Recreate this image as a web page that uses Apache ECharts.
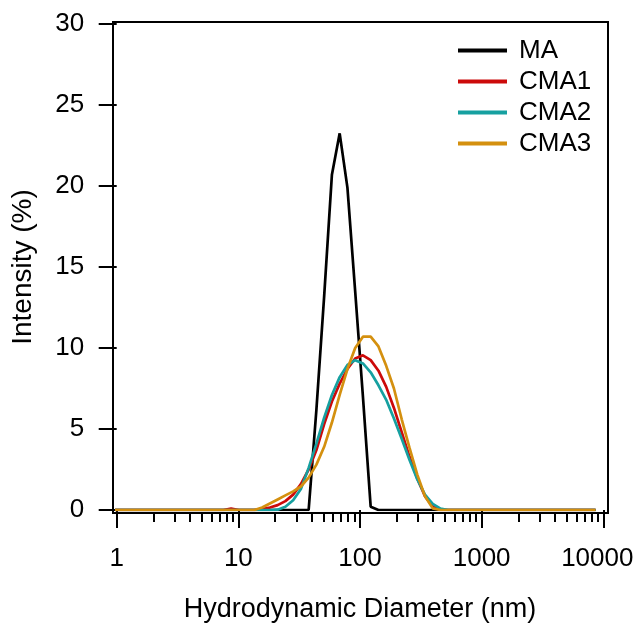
<!DOCTYPE html>
<html><head><meta charset="utf-8">
<script src="https://cdn.jsdelivr.net/npm/echarts@6/dist/echarts.min.js"></script>
<style>html,body{margin:0;padding:0;background:#fff}#c{width:636px;height:626px}</style>
</head><body><div id="c"></div>
<script>
// Size bins (nm)
const diameters = [0.9649, 1.117, 1.294, 1.499, 1.736, 2.010, 2.328, 2.696, 3.122, 3.615, 4.187, 4.849, 5.615, 6.503, 7.531, 8.721, 10.10, 11.70, 13.54, 15.69, 18.17, 21.04, 24.36, 28.21, 32.67, 37.84, 43.82, 50.75, 58.77, 68.06, 78.82, 91.28, 105.7, 122.4, 141.8, 164.2, 190.1, 220.2, 255.0, 295.3, 342.0, 396.1, 458.7, 531.2, 615.1, 712.4, 825.0, 955.4, 1106, 1281, 1484, 1718, 1990, 2305, 2669, 3091, 3580, 4145, 4801, 5560, 6439, 7456, 8635];
// Intensity (%) per bin
const MA   = [0,0,0,0,0,0,0,0,0,0, 0,0,0,0,0,0,0,0,0,0, 0,0,0,0,0,0, 6.2,13.2,20.7,23.25,19.9,13.5,7.0,0.2, 0,0,0,0,0,0,0,0,0,0, 0,0,0,0,0,0,0,0,0,0, 0,0,0,0,0,0,0,0,0];
const CMA1 = [0,0,0,0,0,0,0,0,0,0, 0,0,0,0,0,0.08,0,0,0,0.05, 0.15,0.3,0.55,0.95,1.6,2.5,3.7,5.3,6.7,7.8, 8.7,9.35,9.55,9.25,8.6,7.6,6.3,4.8,3.3,1.95, 0.85,0.2,0,0,0,0,0,0,0,0, 0,0,0,0,0,0,0,0,0,0, 0,0,0];
const CMA2 = [0,0,0,0,0,0,0,0,0,0, 0,0,0,0,0,0,0,0,0,0, 0,0.02,0.2,0.6,1.3,2.6,4.1,5.7,7.1,8.2, 8.95,9.25,9.05,8.5,7.7,6.8,5.65,4.4,3.1,1.9, 0.95,0.38,0.08,0,0,0,0,0,0,0, 0,0,0,0,0,0,0,0,0,0, 0,0,0];
const CMA3 = [0,0,0,0,0,0,0,0,0,0, 0,0,0,0,0,0,0,0,0,0.15, 0.4,0.65,0.9,1.15,1.45,2.0,2.8,3.9,5.4,7.1, 8.7,10.0,10.7,10.7,10.1,8.9,7.5,5.6,3.85,2.2, 0.85,0.1,0,0,0,0,0,0,0,0, 0,0,0,0,0,0,0,0,0,0, 0,0,0];
const seriesNames = ['MA', 'CMA1', 'CMA2', 'CMA3'];
const seriesValues = [MA, CMA1, CMA2, CMA3];
const seriesColors = ['#000000', '#cc0a0a', '#16a0a0', '#d4900f'];
const xMinorTicks = [2,3,4,5,6,7,8,9, 20,30,40,50,60,70,80,90, 200,300,400,500,600,700,800,900, 2000,3000,4000,5000,6000,7000,8000,9000];

const FONT = 'Liberation Sans, Arial, sans-serif';
const chart = echarts.init(document.getElementById('c'), null, {renderer: 'canvas'});
chart.setOption({
  animation: false,
  backgroundColor: '#fff',
  grid: [
    {left: 113, right: 28, top: 22, bottom: 113, show: true, borderColor: '#000', borderWidth: 2, backgroundColor: 'transparent', containLabel: false, outerBoundsMode: 'none'},
    {left: 116.7, right: 32.7, top: 24, bottom: 116, containLabel: false, outerBoundsMode: 'none'}
  ],
  xAxis: [
    {gridIndex: 0, type: 'value', show: false, min: 0, max: 1},
    {gridIndex: 1, type: 'log', logBase: 10, min: 1, max: 10000, position: 'bottom', offset: 3,
     axisLine: {show: false},
     axisTick: {show: true, inside: false, length: 18, lineStyle: {width: 2, color: '#000'}},
     axisLabel: {show: true, margin: 33, fontSize: 26, color: '#000', fontFamily: FONT,
       formatter: v => { const n = Math.round(v); return n === 10000 ? '{last|' + n + '}' : String(n); },
       rich: {last: {fontSize: 26, color: '#000', fontFamily: FONT, padding: [0, 12, 0, 0]}}},
     splitLine: {show: false}, minorTick: {show: false}, minorSplitLine: {show: false},
     name: 'Hydrodynamic Diameter (nm)', nameLocation: 'middle', nameGap: 83,
     nameTextStyle: {fontSize: 27, color: '#000', fontFamily: FONT}},
    {gridIndex: 1, type: 'value', min: 0, max: 4, position: 'bottom', offset: 3,
     axisLine: {show: false},
     axisTick: {show: true, inside: false, length: 9, customValues: xMinorTicks.map(v => Math.log10(v)), lineStyle: {width: 2, color: '#000'}},
     axisLabel: {show: false}, splitLine: {show: false}}
  ],
  yAxis: [
    {gridIndex: 0, type: 'value', show: false, min: 0, max: 1},
    {gridIndex: 1, type: 'value', min: 0, max: 30, interval: 5, position: 'left', offset: 4,
     axisLine: {show: false},
     axisTick: {show: true, inside: false, length: 18, lineStyle: {width: 2, color: '#000'}},
     axisLabel: {show: true, margin: 28.5, fontSize: 26, color: '#000', fontFamily: FONT},
     splitLine: {show: false},
     name: 'Intensity (%)', nameLocation: 'middle', nameGap: 75,
     nameTextStyle: {fontSize: 28, color: '#000', fontFamily: FONT}}
  ],
  legend: {
    orient: 'vertical', left: 458, top: 35, padding: 0, itemGap: 0,
    itemWidth: 49, itemHeight: 4, icon: 'rect',
    textStyle: {fontSize: 26, color: '#000', fontFamily: FONT, lineHeight: 31, padding: [0, 0, 0, 7]},
    data: seriesNames
  },
  series: seriesNames.map((name, k) => ({
    name: name, type: 'line', xAxisIndex: 1, yAxisIndex: 1,
    data: diameters.map((d, i) => [d, seriesValues[k][i]]),
    symbol: 'none', showSymbol: false, smooth: false,
    color: seriesColors[k],
    itemStyle: {color: seriesColors[k]},
    lineStyle: {width: 2.7, color: seriesColors[k]},
    z: 2 + k
  }))
});
</script></body></html>
